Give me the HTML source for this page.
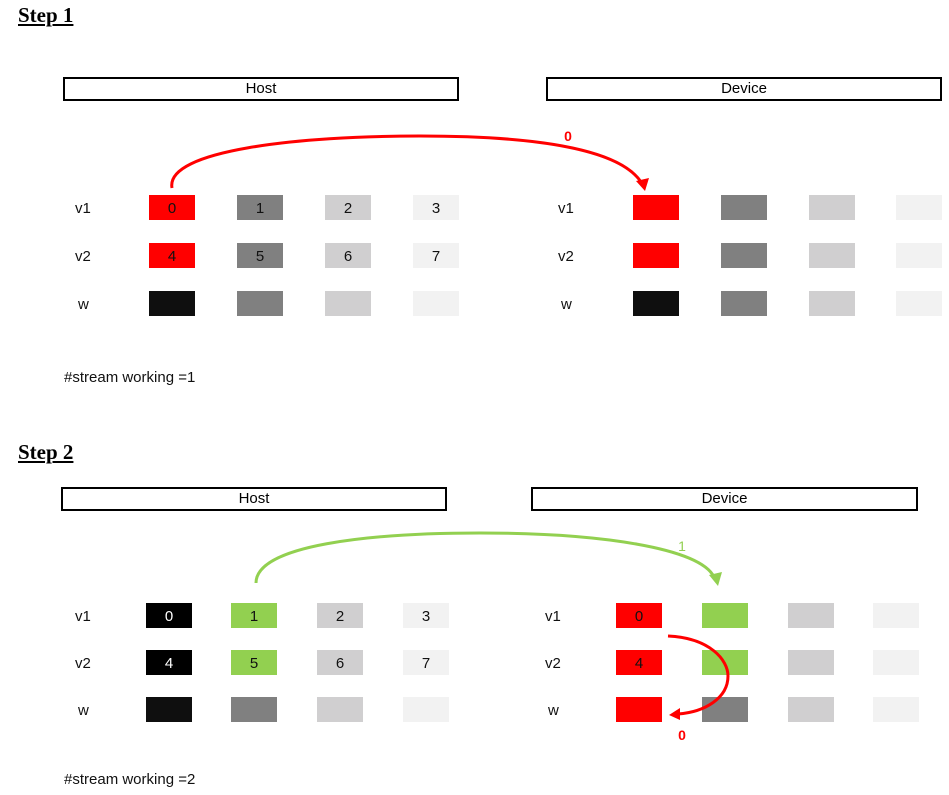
<!DOCTYPE html>
<html><head><style>
body{margin:0;width:949px;height:795px;background:#fff;position:relative;font-family:"Liberation Sans",sans-serif;overflow:hidden}
.a{position:absolute}
.h{position:absolute;font-family:"Liberation Serif",serif;font-weight:bold;font-size:21px;text-decoration:underline}
.bx{position:absolute;border:2px solid #000;box-sizing:border-box;text-align:center;font-size:15px;line-height:19px}
.c{position:absolute;width:46px;height:25px;text-align:center;font-size:15px;line-height:28px;color:#111}
.l{position:absolute;font-size:15px;color:#111}
</style></head><body>
<div class="h" style="left:18px;top:3px">Step 1</div>
<div class="bx" style="left:63px;top:77px;width:396px;height:24px">Host</div>
<div class="bx" style="left:546px;top:77px;width:396px;height:24px">Device</div>
<div class="l" style="left:75px;top:200px">v1</div><div class="l" style="left:75px;top:248px">v2</div><div class="l" style="left:78px;top:296px">w</div>
<div class="l" style="left:558px;top:200px">v1</div><div class="l" style="left:558px;top:248px">v2</div><div class="l" style="left:561px;top:296px">w</div>
<div class="c" style="left:149px;top:195px;background:#f00">0</div>
<div class="c" style="left:237px;top:195px;background:#808080">1</div>
<div class="c" style="left:325px;top:195px;background:#d0cfd0">2</div>
<div class="c" style="left:413px;top:195px;background:#f2f2f2">3</div>
<div class="c" style="left:149px;top:243px;background:#f00">4</div>
<div class="c" style="left:237px;top:243px;background:#808080">5</div>
<div class="c" style="left:325px;top:243px;background:#d0cfd0">6</div>
<div class="c" style="left:413px;top:243px;background:#f2f2f2">7</div>
<div class="c" style="left:149px;top:291px;background:#0f0f0f"></div>
<div class="c" style="left:237px;top:291px;background:#808080"></div>
<div class="c" style="left:325px;top:291px;background:#d0cfd0"></div>
<div class="c" style="left:413px;top:291px;background:#f2f2f2"></div>
<div class="c" style="left:633px;top:195px;background:#f00"></div>
<div class="c" style="left:721px;top:195px;background:#808080"></div>
<div class="c" style="left:809px;top:195px;background:#d0cfd0"></div>
<div class="c" style="left:896px;top:195px;background:#f2f2f2"></div>
<div class="c" style="left:633px;top:243px;background:#f00"></div>
<div class="c" style="left:721px;top:243px;background:#808080"></div>
<div class="c" style="left:809px;top:243px;background:#d0cfd0"></div>
<div class="c" style="left:896px;top:243px;background:#f2f2f2"></div>
<div class="c" style="left:633px;top:291px;background:#0f0f0f"></div>
<div class="c" style="left:721px;top:291px;background:#808080"></div>
<div class="c" style="left:809px;top:291px;background:#d0cfd0"></div>
<div class="c" style="left:896px;top:291px;background:#f2f2f2"></div>
<div class="l" style="left:64px;top:369px">#stream working =1</div>

<div class="h" style="left:18px;top:440px">Step 2</div>
<div class="bx" style="left:61px;top:487px;width:386px;height:24px">Host</div>
<div class="bx" style="left:531px;top:487px;width:387px;height:24px">Device</div>
<div class="l" style="left:75px;top:608px">v1</div><div class="l" style="left:75px;top:655px">v2</div><div class="l" style="left:78px;top:702px">w</div>
<div class="l" style="left:545px;top:608px">v1</div><div class="l" style="left:545px;top:655px">v2</div><div class="l" style="left:548px;top:702px">w</div>
<div class="c" style="left:146px;top:603px;background:#000;color:#fff">0</div>
<div class="c" style="left:231px;top:603px;background:#92d050">1</div>
<div class="c" style="left:317px;top:603px;background:#d0cfd0">2</div>
<div class="c" style="left:403px;top:603px;background:#f2f2f2">3</div>
<div class="c" style="left:146px;top:650px;background:#000;color:#fff">4</div>
<div class="c" style="left:231px;top:650px;background:#92d050">5</div>
<div class="c" style="left:317px;top:650px;background:#d0cfd0">6</div>
<div class="c" style="left:403px;top:650px;background:#f2f2f2">7</div>
<div class="c" style="left:146px;top:697px;background:#0f0f0f"></div>
<div class="c" style="left:231px;top:697px;background:#808080"></div>
<div class="c" style="left:317px;top:697px;background:#d0cfd0"></div>
<div class="c" style="left:403px;top:697px;background:#f2f2f2"></div>
<div class="c" style="left:616px;top:603px;background:#f00">0</div>
<div class="c" style="left:702px;top:603px;background:#92d050"></div>
<div class="c" style="left:788px;top:603px;background:#d0cfd0"></div>
<div class="c" style="left:873px;top:603px;background:#f2f2f2"></div>
<div class="c" style="left:616px;top:650px;background:#f00">4</div>
<div class="c" style="left:702px;top:650px;background:#92d050"></div>
<div class="c" style="left:788px;top:650px;background:#d0cfd0"></div>
<div class="c" style="left:873px;top:650px;background:#f2f2f2"></div>
<div class="c" style="left:616px;top:697px;background:#f00"></div>
<div class="c" style="left:702px;top:697px;background:#808080"></div>
<div class="c" style="left:788px;top:697px;background:#d0cfd0"></div>
<div class="c" style="left:873px;top:697px;background:#f2f2f2"></div>
<div class="l" style="left:64px;top:771px">#stream working =2</div>

<svg class="a" style="left:0;top:0" width="949" height="795">
<path d="M172,188 C165,150 300,136 420,136 C540,136 620,150 641,182" fill="none" stroke="#f00" stroke-width="3"/>
<polygon points="645,191 636,181 649,178" fill="#f00"/>
<text x="568" y="141" fill="#f00" font-size="14" font-weight="bold" font-family="Liberation Sans" text-anchor="middle">0</text>
<path d="M256,583 C256,545 370,533 480,533 C600,533 700,548 714,577" fill="none" stroke="#92d050" stroke-width="3"/>
<polygon points="718,586 709,575 722,572" fill="#92d050"/>
<text x="682" y="551" fill="#92d050" font-size="14" font-family="Liberation Sans" text-anchor="middle">1</text>
<path d="M668,636 C710,638 728,660 728,676 C728,698 705,712 678,714" fill="none" stroke="#f00" stroke-width="3"/>
<polygon points="669,715 680,708 680,720" fill="#f00"/>
<text x="682" y="740" fill="#f00" font-size="14" font-weight="bold" font-family="Liberation Sans" text-anchor="middle">0</text>
</svg>
</body></html>
